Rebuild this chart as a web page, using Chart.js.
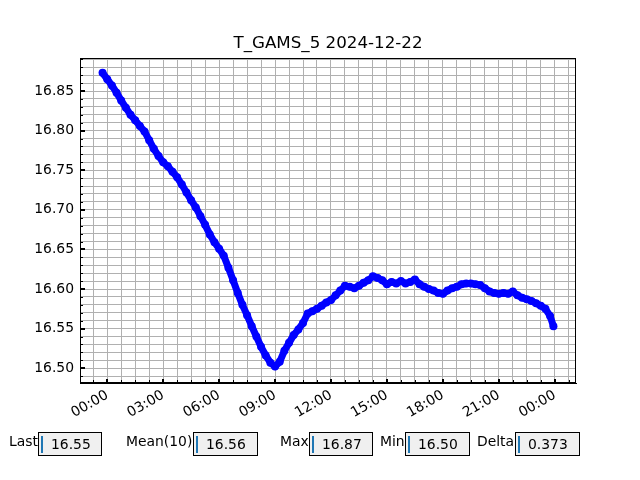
<!DOCTYPE html>
<html>
<head>
<meta charset="utf-8">
<script src="https://cdn.jsdelivr.net/npm/chart.js@4.4.1/dist/chart.umd.min.js"></script>
<style>
  body { margin: 0; background: #fff; }
  #wrap { position: relative; width: 640px; height: 480px; }
  canvas { position: absolute; left: 0; top: 0; }
  .lbl { position: absolute; top: 433px; height: 24px; line-height: 24px; font: 13.9px 'DejaVu Sans'; color: #000; text-align: right; white-space: nowrap; }
  .box { position: absolute; top: 432px; height: 22px; border: 1px solid #000; background: #f0f0f0; font: 13.9px 'DejaVu Sans'; line-height: 22px; color: #000; box-sizing: content-box; }
  .box span.cur { position: absolute; left: 2px; top: 3px; width: 2px; height: 17px; background: #1f77b4; }
  .box span.val { position: absolute; left: 12px; top: 0; }
</style>
</head>
<body>
<div id="wrap">
  <canvas id="temp" width="640" height="480"></canvas>
  <div id="stats"></div>
</div>
<script>
const title = 'T_GAMS_5 2024-12-22';

// hours since midnight 2024-12-22
const hours = [
  -0.25, 0, 0.25, 0.5, 0.75, 1, 1.25, 1.5, 1.75, 2, 2.25, 2.5, 2.75, 3, 3.25, 3.5, 3.75,
  4, 4.25, 4.5, 4.75, 5, 5.25, 5.5, 5.75, 6, 6.25, 6.5, 6.75, 7, 7.25, 7.5, 7.75,
  8, 8.25, 8.5, 8.75, 9, 9.25, 9.5, 9.75, 10, 10.25, 10.5, 10.75, 11, 11.25, 11.5, 11.75,
  12, 12.25, 12.5, 12.75, 13, 13.25, 13.5, 13.75, 14, 14.25, 14.5, 14.75, 15, 15.25, 15.5, 15.75,
  16, 16.25, 16.5, 16.75, 17, 17.25, 17.5, 17.75, 18, 18.25, 18.5, 18.75, 19, 19.25, 19.5, 19.75,
  20, 20.25, 20.5, 20.75, 21, 21.25, 21.5, 21.75, 22, 22.25, 22.5, 22.75, 23, 23.25, 23.5, 23.75, 23.93
];
const temps = [
  16.873, 16.865, 16.857, 16.848, 16.838, 16.829, 16.820, 16.813, 16.806, 16.799, 16.788, 16.777, 16.768, 16.760, 16.755, 16.748, 16.741,
  16.732, 16.722, 16.712, 16.703, 16.692, 16.681, 16.669, 16.659, 16.651, 16.642, 16.627, 16.611, 16.595, 16.580, 16.567, 16.553,
  16.540, 16.527, 16.516, 16.507, 16.502, 16.508, 16.522, 16.532, 16.542, 16.549, 16.557, 16.569, 16.572, 16.575, 16.579, 16.583,
  16.586, 16.592, 16.598, 16.604, 16.603, 16.601, 16.604, 16.608, 16.611, 16.616, 16.614, 16.611, 16.606, 16.609, 16.607, 16.610,
  16.607, 16.609, 16.612, 16.606, 16.603, 16.600, 16.598, 16.595, 16.594, 16.598, 16.601, 16.603, 16.606, 16.607, 16.607, 16.606,
  16.605, 16.601, 16.597, 16.595, 16.594, 16.595, 16.594, 16.597, 16.592, 16.589, 16.587, 16.585, 16.582, 16.579, 16.575, 16.566, 16.553
];

const statLabels = ['Last', 'Mean(10)', 'Max', 'Min', 'Delta'];
const statValues = ['16.55', '16.56', '16.87', '16.50', '0.373'];

const xMin = -1.46, xMax = 25.14;
const yMin = 16.4813, yMax = 16.8917;

function hourLabel(h) {
  let hh = ((Math.round(h) % 24) + 24) % 24;
  return String(hh).padStart(2, '0') + ':00';
}
function isMajorHour(v) {
  return Math.abs(v / 3 - Math.round(v / 3)) < 1e-6;
}
function isMajorTemp(v) {
  return Math.round(v * 100) % 5 === 0;
}

const frameTicks = {
  id: 'frameTicks',
  afterDraw(chart) {
    const { ctx, chartArea: a, scales } = chart;
    ctx.save();
    ctx.strokeStyle = '#000';
    scales.x.ticks.forEach(t => {
      const px = Math.round(scales.x.getPixelForValue(t.value));
      const major = isMajorHour(t.value);
      ctx.lineWidth = major ? 2 : 1;
      const len = major ? 4 : 3;
      ctx.beginPath();
      ctx.moveTo(major ? px : px + 0.5, a.bottom);
      ctx.lineTo(major ? px : px + 0.5, a.bottom - len);
      ctx.stroke();
    });
    scales.y.ticks.forEach(t => {
      const py = Math.round(scales.y.getPixelForValue(t.value));
      const major = isMajorTemp(t.value);
      ctx.lineWidth = major ? 2 : 1;
      const len = major ? 5 : 3;
      ctx.beginPath();
      ctx.moveTo(a.left, major ? py : py + 0.5);
      ctx.lineTo(a.left + len, major ? py : py + 0.5);
      ctx.stroke();
    });
    ctx.lineWidth = 1;
    ctx.strokeRect(Math.round(a.left) + 0.5, Math.round(a.top) + 0.5,
      Math.round(a.right - a.left) - 1, Math.round(a.bottom - a.top) - 1);
    ctx.restore();
  }
};

function chart_temp() {
  Chart.defaults.font.family = 'DejaVu Sans';
  Chart.defaults.color = '#000';
  let ctx = document.getElementById('temp').getContext('2d');
  let points = hours.map((h, i) => ({ x: h, y: temps[i] }));
  let myChart = new Chart(ctx, {
    type: 'line',
    data: {
      datasets: [
        {
          label: title,
          data: points,
          borderColor: '#0000ff',
          backgroundColor: '#0000ff',
          borderWidth: 7,
          borderJoinStyle: 'round',
          borderCapStyle: 'round',
          pointRadius: 4,
          pointBorderWidth: 0,
          pointHoverRadius: 4,
          tension: 0,
        },
      ],
    },
    plugins: [frameTicks],
    options: {
      responsive: false,
      animation: false,
      layout: { padding: { left: 16, right: 0, top: 0, bottom: 0 } },
      scales: {
        x: {
          type: 'linear',
          min: xMin,
          max: xMax,
          afterBuildTicks: (scale) => {
            let t = [];
            for (let i = -1; i <= 33; i++) t.push({ value: i * 0.75 });
            scale.ticks = t;
          },
          afterFit: (scale) => { scale.height = 97; },
          ticks: {
            autoSkip: false,
            minRotation: 30,
            maxRotation: 30,
            padding: 4,
            font: { size: 13.9 },
            callback: (v) => (isMajorHour(v) ? hourLabel(v) : ''),
          },
          grid: { color: '#b0b0b0', lineWidth: 1, drawTicks: false },
          border: { display: true, color: '#000' },
        },
        y: {
          type: 'linear',
          min: yMin,
          max: yMax,
          afterBuildTicks: (scale) => {
            let t = [];
            for (let i = 1649; i <= 1689; i++) t.push({ value: i / 100 });
            scale.ticks = t;
          },
          afterFit: (scale) => { scale.width = 64; },
          ticks: {
            autoSkip: false,
            padding: 6,
            font: { size: 13.9 },
            callback: (v) => (isMajorTemp(v) ? v.toFixed(2) : ''),
          },
          grid: { color: '#b0b0b0', lineWidth: 1, drawTicks: false },
          border: { display: true, color: '#000' },
        },
        // empty right axis only to reserve the right margin
        yRight: {
          type: 'linear',
          position: 'right',
          min: yMin,
          max: yMax,
          afterFit: (scale) => { scale.width = 64; },
          ticks: { display: false },
          grid: { display: false, drawTicks: false },
          border: { display: false },
        },
      },
      plugins: {
        legend: { display: false },
        tooltip: { enabled: false },
        title: {
          display: true,
          text: title,
          color: '#000',
          font: { size: 16.7, weight: 'normal' },
          padding: { top: 34, bottom: 4 },
        },
      },
    },
  });
}

function stats() {
  const labelBox = [[9, 37], [126, 191], [280, 307], [380, 403], [477, 512]];
  const valBox = [[38, 102], [193, 258], [309, 373], [405, 470], [515, 580]];
  let html = '';
  for (let i = 0; i < statLabels.length; i++) {
    html += '<div class="lbl" style="left:' + labelBox[i][0] + 'px;width:' + (labelBox[i][1] - labelBox[i][0]) + 'px">' + statLabels[i] + '</div>';
    html += '<div class="box" style="left:' + valBox[i][0] + 'px;width:' + (valBox[i][1] - valBox[i][0] - 2) + 'px">' +
      '<span class="cur"></span><span class="val">' + statValues[i] + '</span></div>';
  }
  document.getElementById('stats').innerHTML = html;
}

document.addEventListener('DOMContentLoaded', (ev) => {
  chart_temp();
  stats();
});
</script>
</body>
</html>
